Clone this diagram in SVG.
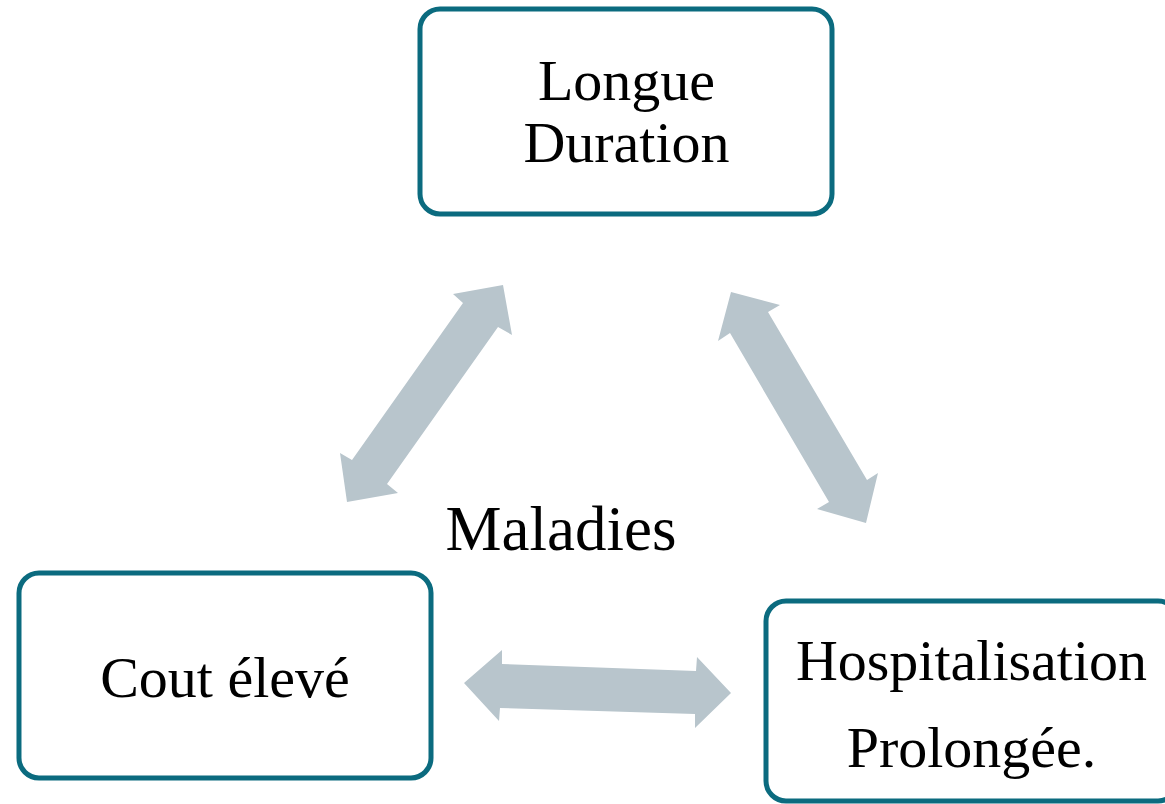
<svg xmlns="http://www.w3.org/2000/svg" width="1165" height="804" viewBox="0 0 1165 804">
<style>
.box{fill:#ffffff;stroke:#0b6b7f;stroke-width:5}
.t{font-family:"Liberation Serif","Times New Roman",serif;font-size:58px;fill:#000;text-anchor:middle}
.arr{fill:#b8c5cc}
</style>
<rect width="1165" height="804" fill="#ffffff"/>
<g id="connectors">
<polygon class="arr" points="503,285 512,335 498,327 387,484 398,493 347,502 340,453 352,460 463,303 453,294"/>
<polygon class="arr" points="731,292 780,305 768,312 867,480 878,473 866,523 817,509 829,502 730,333 718,341"/>
<polygon class="arr" points="464,683 502,650 502,664 696,671 697,657 731,693 695,728 695,714 500,708 499,721"/>
</g>
<g id="node-longue">
<rect class="box" x="420" y="9" width="412" height="205" rx="20"/>
<text class="t" x="626.5" y="100">Longue</text>
<text class="t" x="626.5" y="162">Duration</text>
</g>
<g id="node-cout">
<rect class="box" x="19" y="573" width="412" height="205" rx="20"/>
<text class="t" x="225" y="697">Cout élevé</text>
</g>
<g id="node-hospitalisation">
<rect class="box" x="766" y="601" width="412" height="200" rx="20"/>
<text class="t" x="971.5" y="680">Hospitalisation</text>
<text class="t" x="971.5" y="767">Prolongée.</text>
</g>
<g id="label-maladies">
<text class="t" x="561" y="550" style="font-size:63px">Maladies</text>
</g>
</svg>
